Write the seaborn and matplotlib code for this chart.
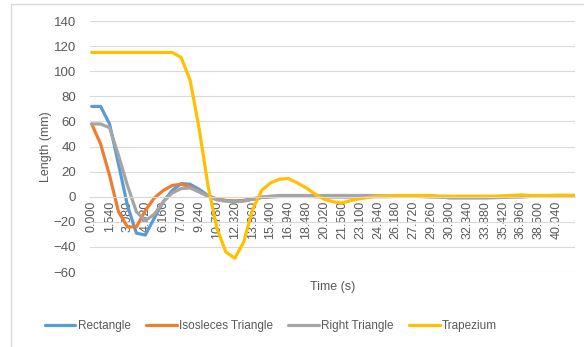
import numpy as np
import pandas as pd
import seaborn as sns
import matplotlib
matplotlib.use('Agg')
import matplotlib.pyplot as plt
from matplotlib.patches import Rectangle

# Time samples (s), one every 0.77 s
time = np.round(np.arange(55) * 0.77, 2)

rectangle = [72, 72, 58, 26, -7, -29, -30.5, -17, -4, 5, 10.5, 10, 6, 1, -2, -3, -3.5, -3, -1.5, -0.5,
             0, 0.3, 0.3, 0.3, 0.3, 0.2, 0, 0, 0, 0, 0, 0.2, 0.2, 0.2, 0.3, 0.3, 0.3, 0.2, 0, 0,
             -0.5, -0.5, -0.5, -0.5, -0.5, -0.5, -0.3, 0, 0, 0.3, 0.3, 0.3, 0.3, 0.3, 0.3]
isosceles = [58, 42, 17, -12, -24, -24, -11, -1, 5, 9, 10, 8, 4, 0.5, -2, -3, -3.5, -3, -2, -0.5,
             0, 0.3, 0.3, 0.3, 0.3, 0.2, 0, 0, 0, 0, 0, 0.2, 0.2, 0.2, 0.3, 0.3, 0.3, 0.2, 0, 0,
             -0.3, -0.3, -0.3, -0.3, -0.3, -0.3, -0.2, 0, 0, 0.3, 0.3, 0.3, 0.3, 0.3, 0.3]
right_triangle = [58, 58, 55, 33, 9, -12, -19, -14, -4, 3, 6.5, 7, 4, 0.5, -2.5, -3.5, -4, -3.5, -2, -0.5,
                  0.5, 1, 1, 1, 1, 1, 1, 1, 1, 1, 1, 1, 0.8, 0.6, 0.5, 0.5, 0.5, 0.5, 0.3, 0,
                  -1, -1, -1, -1, -1, -0.8, -0.5, 0, 0.3, 0.5, 0.5, 0.5, 0.5, 0.5, 0.5]
trapezium = [115, 115, 115, 115, 115, 115, 115, 115, 115, 115, 111, 93, 55, 9, -25, -44, -49, -36, -10, 5,
             11, 14, 14.5, 11, 7, 2, -2, -4, -5, -3, -1.5, -0.5, 0.5, 0.5, 1, 1, 1, 1, 1, 0.5,
             0.5, 0.5, 0.5, 0.5, 0.5, 0.5, 0.8, 1, 1.5, 1, 1, 1, 1.2, 1.2, 1.2]

shapes = ['Rectangle', 'Isosleces Triangle', 'Right Triangle', 'Trapezium']
colors = ['#5B9BD5', '#ED7D31', '#A5A5A5', '#FFC000']

tick_times = np.round(np.arange(27) * 1.54, 2)
tick_labels = [f'{t:.3f}' for t in tick_times]

df = pd.DataFrame({
    'Time': np.tile(time, 4),
    'Length': np.concatenate([rectangle, isosceles, right_triangle, trapezium]),
    'Shape': np.repeat(shapes, len(time)),
})

sns.set_style('white')
plt.rcParams['font.family'] = ['Liberation Sans', 'DejaVu Sans']
text_color = '#595959'
grid_color = '#d9d9d9'

fig = plt.figure(figsize=(5.84, 3.47), dpi=100)
ax = fig.add_axes([0.154, 0.216, 0.830, 0.7233])

sns.lineplot(data=df, x='Time', y='Length', hue='Shape', hue_order=shapes,
             palette=colors, linewidth=2.3, sort=False, estimator=None, ax=ax)

handles, labels = ax.get_legend_handles_labels()
ax.get_legend().remove()

# horizontal axis crosses at 0 (set before ticks, it resets them)
for side in ['top', 'right', 'left']:
    ax.spines[side].set_visible(False)
ax.spines['bottom'].set_position(('data', 0))
ax.spines['bottom'].set_color(grid_color)
ax.spines['bottom'].set_linewidth(0.8)

ax.set_xlim(-0.15, 41.58)
ax.set_ylim(-60, 140)
ax.set_yticks(range(-60, 141, 20))
ax.set_xticks(tick_times, tick_labels)

ax.yaxis.grid(True, color=grid_color, linewidth=0.8)
ax.set_axisbelow(True)

ax.tick_params(axis='x', length=0, pad=3, labelsize=9, colors=text_color, labelrotation=90)
ax.tick_params(axis='y', length=0, pad=10, labelsize=9.5, colors=text_color)

ax.set_xlabel('Time (s)', fontsize=9, color=text_color)
ax.set_ylabel('Length (mm)', fontsize=9, color=text_color)
ax.xaxis.set_label_coords(0.5, -0.036)
ax.yaxis.set_label_coords(-0.078, 0.5)

fig.legend(handles, labels, loc='center', bbox_to_anchor=(271 / 584, 1 - 326 / 347),
           ncol=4, frameon=False, handlelength=2.6, handletextpad=0.2,
           columnspacing=1.3, fontsize=8.5, labelcolor=text_color)

# chart area border
fig.patches.append(Rectangle((11 / 584, -0.05), 1.0, 1 - 4 / 347 + 0.05, transform=fig.transFigure,
                             fill=False, edgecolor=grid_color, linewidth=1))

fig.savefig('out.png', dpi=100)
